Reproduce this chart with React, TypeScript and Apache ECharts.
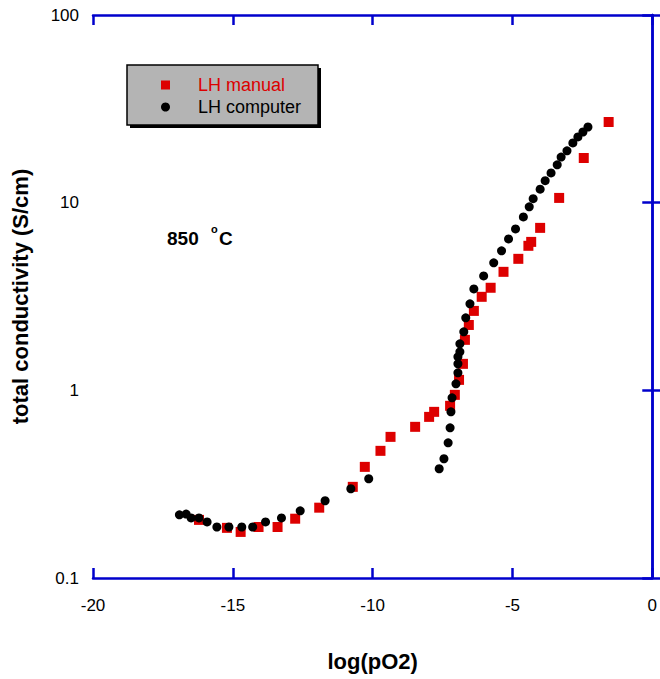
import React, { useEffect, useRef } from "react";
import * as echarts from "echarts";

const manualX = [-16.21, -15.21, -14.72, -14.08, -13.40, -12.77, -11.91, -10.71, -10.28, -9.72, -9.36, -8.48, -7.98, -7.80, -7.23, -7.06, -6.91, -6.77, -6.70, -6.56, -6.38, -6.10, -5.78, -5.32, -4.79, -4.43, -4.33, -4.01, -3.33, -2.45, -1.56];
const manualY = [0.204, 0.185, 0.176, 0.187, 0.187, 0.207, 0.237, 0.306, 0.391, 0.476, 0.565, 0.639, 0.722, 0.768, 0.827, 0.946, 1.137, 1.384, 1.858, 2.23, 2.65, 3.15, 3.52, 4.28, 5.02, 5.89, 6.18, 7.34, 10.6, 17.3, 26.9];

const computerX = [-16.91, -16.67, -16.49, -16.21, -15.92, -15.57, -15.14, -14.68, -14.29, -13.83, -13.26, -12.59, -11.70, -10.78, -10.14, -7.62, -7.45, -7.30, -7.23, -7.20, -7.16, -7.02, -6.95, -6.95, -6.95, -6.88, -6.88, -6.74, -6.67, -6.52, -6.38, -6.03, -5.67, -5.39, -5.14, -4.89, -4.61, -4.40, -4.26, -4.01, -3.83, -3.62, -3.40, -3.26, -3.05, -2.84, -2.66, -2.48, -2.30];
const computerY = [0.217, 0.219, 0.209, 0.209, 0.199, 0.187, 0.187, 0.187, 0.187, 0.199, 0.209, 0.228, 0.258, 0.299, 0.338, 0.382, 0.432, 0.525, 0.631, 0.768, 0.912, 1.083, 1.24, 1.384, 1.508, 1.604, 1.769, 2.05, 2.434, 2.89, 3.47, 4.07, 4.78, 5.54, 6.41, 7.25, 8.40, 9.50, 10.5, 11.8, 13.1, 14.4, 15.9, 17.5, 18.9, 20.8, 22.4, 23.8, 25.3];

const seriesNames = ["LH manual", "LH computer"];
const xAxisRange = [-20, 0];
const yAxisRange = [0.1, 100];

const FONT = "Liberation Sans, Arial, sans-serif";
const BLUE = "#0000cc";
const RED = "#dd0000";

export default function App() {
  const ref = useRef<HTMLDivElement>(null);
  useEffect(() => {
    if (!ref.current) return;
    const chart = echarts.init(ref.current, undefined, { renderer: "svg" });
    const zip = (xs: number[], ys: number[]) => xs.map((x, i) => [x, ys[i]]);
    const axisLine = { show: true, lineStyle: { color: BLUE, width: 2.5 } };
    const axisTick = { show: true, inside: true, length: 10, lineStyle: { color: BLUE, width: 2.5 } };
    chart.setOption({
      animation: false,
      backgroundColor: "#ffffff",
      grid: { left: 93, top: 15, right: 3, bottom: 101, containLabel: false },
      xAxis: [
        {
          type: "value",
          min: xAxisRange[0],
          max: xAxisRange[1],
          interval: 5,
          position: "bottom",
          axisLine,
          axisTick,
          splitLine: { show: false },
          axisLabel: { color: "#000", fontSize: 17, fontFamily: FONT, margin: 19 },
          name: "log(pO2)",
          nameLocation: "middle",
          nameGap: 72,
          nameTextStyle: { color: "#000", fontSize: 22, fontWeight: "bold", fontFamily: FONT },
        },
        {
          type: "value",
          min: xAxisRange[0],
          max: xAxisRange[1],
          interval: 5,
          position: "top",
          axisLine,
          axisTick,
          splitLine: { show: false },
          axisLabel: { show: false },
        },
      ],
      yAxis: [
        {
          type: "log",
          logBase: 10,
          min: yAxisRange[0],
          max: yAxisRange[1],
          position: "left",
          axisLine,
          axisTick,
          minorTick: { show: false },
          splitLine: { show: false },
          axisLabel: {
            color: "#000",
            fontSize: 17,
            fontFamily: FONT,
            margin: 14,
            formatter: (v: number) => (v < 1 ? String(Number(v.toFixed(1))) : String(Math.round(v))),
          },
          name: "total conductivity (S/cm)",
          nameLocation: "middle",
          nameGap: 62,
          nameTextStyle: { color: "#000", fontSize: 22, fontWeight: "bold", fontFamily: FONT },
        },
        {
          type: "log",
          logBase: 10,
          min: yAxisRange[0],
          max: yAxisRange[1],
          position: "right",
          axisLine,
          axisTick,
          splitLine: { show: false },
          axisLabel: { show: false },
        },
      ],
      legend: {
        left: 156,
        top: 71,
        orient: "vertical",
        itemWidth: 9,
        itemHeight: 9,
        itemGap: 4,
        z: 10,
        data: [
          { name: seriesNames[0], textStyle: { color: RED } },
          { name: seriesNames[1], textStyle: { color: "#000" } },
        ],
        textStyle: { fontSize: 18, fontFamily: FONT, padding: [0, 0, 0, 23] },
      },
      graphic: [
        { type: "rect", z: 1, shape: { x: 130, y: 68, width: 191, height: 60 }, style: { fill: "#000" } },
        { type: "rect", z: 2, shape: { x: 127, y: 65, width: 191, height: 60 }, style: { fill: "#b4b4b4", stroke: "#000", lineWidth: 1.5 } },
        { type: "text", z: 5, x: 167, y: 238, style: { text: "850", fontSize: 19, fontWeight: "bold", fontFamily: FONT, fill: "#000", verticalAlign: "middle" } },
        { type: "text", z: 5, x: 211, y: 229, style: { text: "o", fontSize: 11, fontWeight: "bold", fontFamily: FONT, fill: "#000", verticalAlign: "middle" } },
        { type: "text", z: 5, x: 219, y: 238, style: { text: "C", fontSize: 19, fontWeight: "bold", fontFamily: FONT, fill: "#000", verticalAlign: "middle" } },
      ],
      series: [
        {
          name: seriesNames[0],
          type: "scatter",
          symbol: "rect",
          symbolSize: 10,
          itemStyle: { color: RED, opacity: 1 },
          data: zip(manualX, manualY),
          z: 3,
        },
        {
          name: seriesNames[1],
          type: "scatter",
          symbol: "circle",
          symbolSize: 9,
          itemStyle: { color: "#000", opacity: 1 },
          data: zip(computerX, computerY),
          z: 4,
        },
      ],
    });
    return () => chart.dispose();
  }, []);
  return <div ref={ref} style={{ position: "fixed", left: 0, top: 0, width: 660, height: 679 }} />;
}
